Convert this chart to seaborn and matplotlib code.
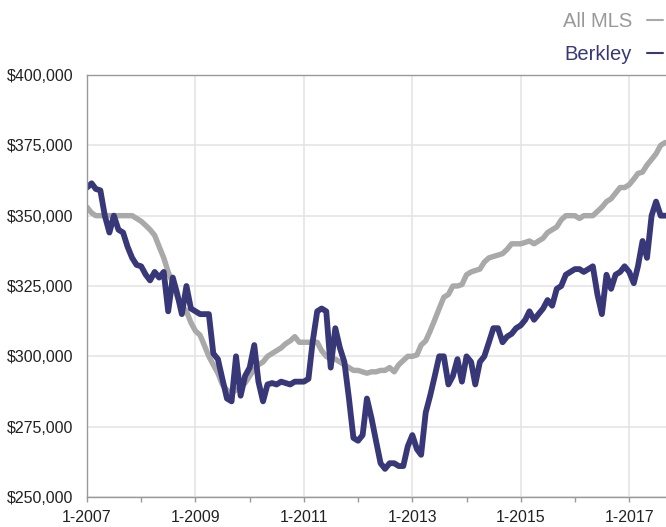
import pandas as pd
import matplotlib.pyplot as plt
import seaborn as sns
from matplotlib.ticker import FuncFormatter

# Monthly median price, thousands of dollars, Jan 2007 onwards
all_mls = [
    353, 351, 350, 350, 350, 350, 350, 350, 350, 350,
    350, 349, 348, 346.5, 345, 343, 339, 335, 330, 326,
    321, 318, 316, 312, 309, 307.5, 304, 300, 297, 294,
    290, 288, 287, 288, 289, 290.5, 293, 295.5, 297, 298,
    300, 301, 302, 303, 304.5, 305.5, 307, 305, 305, 305,
    305, 305, 302, 300, 299, 299, 298, 297, 296, 295,
    295, 294.5, 294, 294.5, 294.5, 295, 295, 296, 294.5, 297,
    298.5, 300, 300, 300.5, 304, 305.5, 309, 313, 317, 321,
    322, 325, 325, 325.5, 329, 330, 330.5, 331, 333.5, 335,
    335.5, 336, 336.5, 338, 340, 340, 340, 340.5, 341, 340,
    341, 342, 344, 345, 346, 348.5, 350, 350, 350, 349,
    350, 350, 350, 351.5, 353, 355, 356, 358, 360, 360,
    361, 363, 365, 365.5, 368, 370, 372, 375, 376,
]
berkley = [
    360, 361.5, 359.5, 359, 350, 344, 350, 345, 344, 339,
    335, 332.5, 332, 329, 327, 330, 328, 330, 316, 328,
    322, 315, 325, 317, 316, 315, 315, 315, 301, 299,
    292, 285, 284, 300, 286, 293, 296, 304, 291, 284,
    290, 290.5, 290, 291, 290.5, 290, 291, 291, 291, 292,
    305, 316, 317, 316, 296, 310, 303, 298, 285, 271,
    270, 272, 285, 278, 270, 262, 260, 262, 262, 261,
    261, 268, 272, 267, 265, 280, 286, 293, 300, 300,
    290, 293, 299, 291, 300, 298, 290, 298, 300, 305,
    310, 310, 305, 307, 308, 310, 311, 313, 316, 313,
    315, 317, 320, 318, 324, 325, 329, 330, 331, 331,
    330, 331, 332, 322, 315, 329, 324, 329, 330, 332,
    330, 326, 332, 341, 335, 350, 355, 350, 350,
]
months = pd.date_range('2007-01-01', periods=len(all_mls), freq='MS')
label_years = [2007, 2009, 2011, 2013, 2015, 2017]
minor_years = [2008, 2010, 2012, 2014, 2016]
y_ticks = [250000, 275000, 300000, 325000, 350000, 375000, 400000]

df = pd.DataFrame({
    'month': months,
    'All MLS': [v * 1000 for v in all_mls],
    'Berkley': [v * 1000 for v in berkley],
})

sns.set_theme(style='whitegrid')
plt.rcParams['font.family'] = ['Liberation Sans', 'DejaVu Sans']

gray = '#a9a9a9'
navy = '#383878'

fig = plt.figure(figsize=(6.66, 5.27), dpi=100)
ax = fig.add_axes([87 / 666, 30 / 527, 579 / 666, 422 / 527])

sns.lineplot(data=df, x='month', y='All MLS', ax=ax, color=gray, lw=3.9,
             label='All MLS', solid_joinstyle='round', solid_capstyle='round')
sns.lineplot(data=df, x='month', y='Berkley', ax=ax, color=navy, lw=4.2,
             label='Berkley', solid_joinstyle='round', solid_capstyle='round')

ax.set_xlim(pd.Timestamp('2007-01-01'), pd.Timestamp('2017-09-06'))
ax.set_ylim(250000, 400000)
ax.set_yticks(y_ticks)
ax.yaxis.set_major_formatter(FuncFormatter(lambda v, p: f'${v:,.0f}'))
ax.set_xticks([pd.Timestamp(f'{y}-01-01') for y in label_years])
ax.set_xticklabels([f'1-{y}' for y in label_years])
ax.set_xticks([pd.Timestamp(f'{y}-01-01') for y in minor_years], minor=True)
ax.set_xlabel('')
ax.set_ylabel('')

ax.grid(True, which='major', color='#e3e3e3', lw=1.1)
ax.grid(False, which='minor')
ax.tick_params(axis='y', length=0, pad=10, labelsize=11.5, labelcolor='#222222')
ax.tick_params(axis='x', which='both', bottom=True, length=3.6, width=1,
               color='#999999', direction='out', pad=6, labelsize=11.5,
               labelcolor='#222222')

for side in ['left', 'bottom', 'top']:
    ax.spines[side].set_color('#999999')
    ax.spines[side].set_linewidth(1)
ax.spines['right'].set_visible(False)

leg = ax.legend(loc='upper right', bbox_to_anchor=(663 / 666, 1 - 12 / 527),
                bbox_transform=fig.transFigure, frameon=False,
                markerfirst=False, fontsize=14.5, handlelength=0.8,
                handletextpad=0.75, labelspacing=0.68, borderpad=0,
                borderaxespad=0, labelcolor='linecolor')
for line in leg.get_lines():
    line.set_linewidth(1.5)
leg.get_texts()[0].set_color('#999999')

fig.savefig('out.png', dpi=100)
